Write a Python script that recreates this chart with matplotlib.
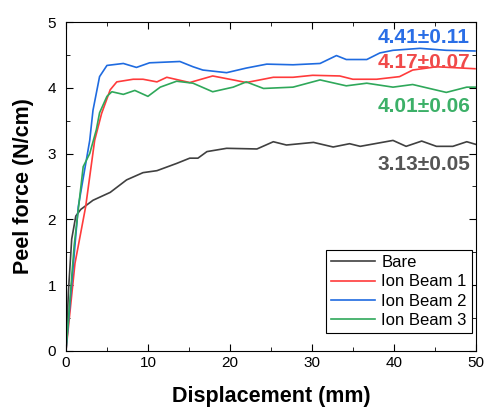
import matplotlib

matplotlib.use("Agg")
import matplotlib.pyplot as plt
from matplotlib.ticker import MultipleLocator

plt.rcParams["font.family"] = ["Liberation Sans", "DejaVu Sans"]

# displacement (mm) / peel force (N/cm)
bare_x = [0, 0.3, 0.7, 1.2, 1.8, 3.3, 5.4, 7.4, 9.4, 11.1, 13.5, 15.1, 16.1,
          17.2, 19.6, 23.3, 25.3, 26.9, 30.2, 32.6, 34.6, 35.9, 39.9, 41.5,
          43.4, 45.2, 47.2, 48.9, 50]
bare_y = [0, 0.9, 1.7, 2.05, 2.15, 2.29, 2.41, 2.60, 2.71, 2.74, 2.85, 2.93,
          2.93, 3.03, 3.08, 3.07, 3.18, 3.13, 3.17, 3.10, 3.15, 3.11, 3.20,
          3.11, 3.19, 3.11, 3.11, 3.18, 3.14]

ib1_x = [0, 1.1, 2.4, 3.5, 4.35, 5.4, 6.2, 8.2, 9.4, 11.1, 12.3, 15.1, 17.9,
         20.4, 22.0, 25.3, 27.7, 30.1, 33.4, 35.0, 37.9, 40.7, 42.3, 45.2,
         49.9]
ib1_y = [0, 1.33, 2.19, 3.2, 3.61, 3.97, 4.09, 4.13, 4.13, 4.09, 4.16, 4.08,
         4.18, 4.12, 4.08, 4.16, 4.16, 4.19, 4.18, 4.13, 4.13, 4.17, 4.27,
         4.32, 4.29]

ib2_x = [0, 1.5, 2.9, 3.3, 4.1, 5.0, 7.0, 8.6, 10.2, 13.9, 15.5, 16.7, 19.6,
         22.0, 24.5, 27.7, 31.0, 33.0, 34.2, 36.7, 38.3, 39.9, 43.2, 46.4,
         49.9]
ib2_y = [0, 2.19, 3.2, 3.66, 4.17, 4.34, 4.37, 4.31, 4.38, 4.40, 4.32, 4.27,
         4.23, 4.30, 4.36, 4.35, 4.37, 4.49, 4.43, 4.43, 4.53, 4.57, 4.60,
         4.57, 4.56]

ib3_x = [0, 1.0, 2.1, 2.9, 3.7, 4.1, 5.0, 5.6, 7.0, 8.4, 10.0, 11.5, 13.5,
         15.5, 17.9, 20.4, 22.0, 24.1, 27.7, 31.0, 34.2, 36.7, 39.9, 42.3,
         46.4, 48.9, 50]
ib3_y = [0, 1.6, 2.80, 3.0, 3.36, 3.62, 3.87, 3.94, 3.90, 3.96, 3.87, 4.01,
         4.10, 4.07, 3.94, 4.01, 4.09, 3.99, 4.01, 4.12, 4.03, 4.07, 4.01,
         4.05, 3.93, 4.01, 4.01]

names = ["Bare", "Ion Beam 1", "Ion Beam 2", "Ion Beam 3"]
means = ["3.13±0.05", "4.17±0.07", "4.41±0.11", "4.01±0.06"]
label_y = [2.84, 4.39, 4.76, 3.72]
colors = ["#404040", "#ff3b3b", "#1f6be0", "#2fa85a"]
text_colors = ["#555555", "#f04a4a", "#2a6ee6", "#3cb068"]

fig = plt.figure(figsize=(4.85, 4.08), dpi=100)
ax = fig.add_axes([0.136, 0.140, 0.845, 0.806])

series = [(bare_x, bare_y), (ib1_x, ib1_y), (ib2_x, ib2_y), (ib3_x, ib3_y)]
for (xs, ys), name, c in zip(series, names, colors):
    ax.plot(xs, ys, color=c, lw=1.2, label=name)

for txt, yy, c in zip(means, label_y, text_colors):
    ax.text(49.3, yy, txt, color=c, fontsize=15, fontweight="bold",
            ha="right", va="center")

ax.set_xlim(0, 50)
ax.set_ylim(0, 5)
ax.xaxis.set_major_locator(MultipleLocator(10))
ax.xaxis.set_minor_locator(MultipleLocator(5))
ax.yaxis.set_major_locator(MultipleLocator(1))
ax.yaxis.set_minor_locator(MultipleLocator(0.5))
ax.tick_params(which="both", direction="in", top=True, right=True,
               labelsize=11)
ax.tick_params(axis="y", pad=7)
ax.tick_params(which="major", length=5)
ax.tick_params(which="minor", length=3)
ax.set_xlabel("Displacement (mm)", fontsize=15.5, fontweight="bold",
              labelpad=12)
ax.set_ylabel("Peel force (N/cm)", fontsize=15.5, fontweight="bold",
              labelpad=10)

leg = ax.legend(loc="lower right", fontsize=12, fancybox=False,
                edgecolor="black", framealpha=1, handlelength=2.6,
                borderaxespad=0.0, labelspacing=0.25, borderpad=0.3,
                handletextpad=0.4, bbox_to_anchor=(0.99, 0.055))
leg.get_frame().set_linewidth(0.8)

fig.savefig("out.png", dpi=100)
